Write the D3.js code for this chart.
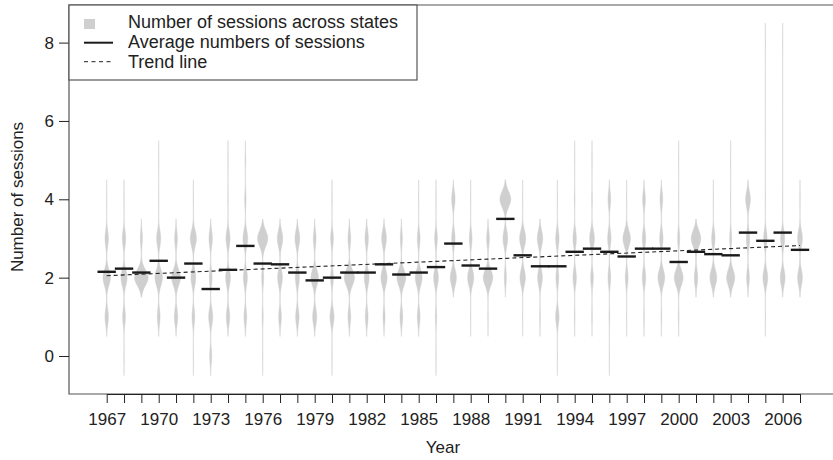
<!DOCTYPE html>
<html>
<head>
<meta charset="utf-8">
<script src="https://cdn.jsdelivr.net/npm/d3@7"></script>
<style>
  body { margin: 0; background: #fff; }
  svg { display: block; font-family: "Liberation Sans", Arial, sans-serif; }
</style>
</head>
<body>
<svg id="chart"></svg>
<script>
// years on the x axis
const years = [1967, 1968, 1969, 1970, 1971, 1972, 1973, 1974, 1975, 1976,
               1977, 1978, 1979, 1980, 1981, 1982, 1983, 1984, 1985, 1986,
               1987, 1988, 1989, 1990, 1991, 1992, 1993, 1994, 1995, 1996,
               1997, 1998, 1999, 2000, 2001, 2002, 2003, 2004, 2005, 2006, 2007];

// session values that states report (0 .. 8)
const sessionLevels = [0, 1, 2, 3, 4, 5, 6, 7, 8];

// number of states at each session level, one row per year (estimated from the violins)
const stateCounts = [
  [0, 10, 22, 10, 1, 0, 0, 0, 0],  // 1967
  [1, 8, 18, 10, 1, 0, 0, 0, 0],   // 1968
  [0, 0, 40, 6, 0, 0, 0, 0, 0],    // 1969
  [0, 8, 22, 12, 1, 1, 0, 0, 0],   // 1970
  [0, 10, 26, 8, 0, 0, 0, 0, 0],   // 1971
  [1, 8, 14, 18, 1, 0, 0, 0, 0],   // 1972
  [6, 12, 8, 10, 0, 0, 0, 0, 0],   // 1973
  [0, 10, 14, 12, 1, 1, 0, 0, 0],  // 1974
  [0, 8, 12, 14, 4, 2, 0, 0, 0],   // 1975
  [1, 3, 6, 30, 0, 0, 0, 0, 0],    // 1976
  [0, 8, 14, 16, 0, 0, 0, 0, 0],   // 1977
  [0, 10, 12, 14, 0, 0, 0, 0, 0],  // 1978
  [0, 12, 22, 8, 0, 0, 0, 0, 0],   // 1979
  [1, 12, 8, 8, 1, 0, 0, 0, 0],    // 1980
  [0, 8, 30, 8, 0, 0, 0, 0, 0],    // 1981
  [0, 8, 14, 10, 0, 0, 0, 0, 0],   // 1982
  [0, 6, 18, 14, 0, 0, 0, 0, 0],   // 1983
  [0, 8, 26, 6, 0, 0, 0, 0, 0],    // 1984
  [0, 8, 20, 8, 1, 0, 0, 0, 0],    // 1985
  [1, 4, 14, 8, 1, 0, 0, 0, 0],    // 1986
  [0, 0, 18, 10, 10, 0, 0, 0, 0],  // 1987
  [0, 1, 18, 8, 1, 0, 0, 0, 0],    // 1988
  [0, 1, 28, 8, 0, 0, 0, 0, 0],    // 1989
  [0, 0, 6, 14, 32, 0, 0, 0, 0],   // 1990
  [0, 1, 16, 18, 1, 0, 0, 0, 0],   // 1991
  [0, 2, 14, 16, 0, 0, 0, 0, 0],   // 1992
  [1, 10, 8, 10, 1, 0, 0, 0, 0],   // 1993
  [0, 2, 10, 10, 2, 1, 0, 0, 0],   // 1994
  [0, 2, 8, 14, 2, 1, 0, 0, 0],    // 1995
  [1, 2, 8, 10, 8, 0, 0, 0, 0],    // 1996
  [0, 1, 8, 22, 1, 0, 0, 0, 0],    // 1997
  [0, 2, 10, 10, 8, 0, 0, 0, 0],   // 1998
  [0, 2, 20, 10, 8, 0, 0, 0, 0],   // 1999
  [0, 2, 26, 6, 1, 1, 0, 0, 0],    // 2000
  [0, 0, 10, 28, 0, 0, 0, 0, 0],   // 2001
  [0, 0, 20, 10, 1, 0, 0, 0, 0],   // 2002
  [0, 0, 24, 6, 1, 1, 0, 0, 0],    // 2003
  [0, 0, 8, 10, 14, 0, 0, 0, 0],   // 2004
  [0, 1, 14, 10, 1, 0, 0, 0, 1],   // 2005
  [0, 0, 14, 12, 1, 0, 0, 0, 1],   // 2006
  [0, 0, 14, 14, 1, 0, 0, 0, 0]    // 2007
];

// average number of sessions per year
const averageSessions = [2.15, 2.23, 2.13, 2.43, 2.00, 2.36, 1.71, 2.20, 2.81, 2.36,
                         2.34, 2.13, 1.93, 2.00, 2.13, 2.13, 2.34, 2.08, 2.13, 2.27,
                         2.87, 2.31, 2.23, 3.50, 2.57, 2.29, 2.29, 2.66, 2.74, 2.66,
                         2.54, 2.74, 2.74, 2.40, 2.66, 2.60, 2.57, 3.15, 2.94, 3.15, 2.71];

// trend line values at first and last year
const trendYears = [1967, 2007];
const trendValues = [2.05, 2.82];

const yTickValues = [0, 2, 4, 6, 8];
const xLabelYears = [1967, 1970, 1973, 1976, 1979, 1982, 1985, 1988, 1991, 1994, 1997, 2000, 2003, 2006];

const legendLabels = ["Number of sessions across states", "Average numbers of sessions", "Trend line"];

const W = 833, H = 460;
const margin = {top: 5, right: 0, bottom: 66, left: 69};
const violinGrey = "#cfcfd0";

const svg = d3.select("#chart").attr("width", W).attr("height", H);

const x = d3.scaleLinear().domain([1967, 2007]).range([106.7, 800]);
const y = d3.scaleLinear().domain([-0.97, 8.96]).range([H - margin.bottom, margin.top]);
const step = x(1968) - x(1967);

// kernel density of the discrete session counts
const bw = 0.2;
function density(counts, v) {
  let s = 0;
  counts.forEach((c, i) => {
    const z = (v - sessionLevels[i]) / bw;
    s += c * Math.exp(-0.5 * z * z);
  });
  return s;
}

const violins = years.map((yr, i) => {
  const counts = stateCounts[i];
  const present = sessionLevels.filter((l, j) => counts[j] > 0);
  const lo = d3.min(present) - 0.5, hi = d3.max(present) + 0.5;
  const pts = [];
  for (let v = lo; v <= hi + 1e-9; v += 0.02) pts.push({v: v, d: density(counts, v)});
  return {year: yr, pts: pts};
});
const maxD = d3.max(violins, vi => d3.max(vi.pts, p => p.d));
const halfW = 6.8;

const area = d3.area()
  .y(p => y(p.v))
  .curve(d3.curveLinear);

const g = svg.append("g");

violins.forEach(vi => {
  const cx = x(vi.year);
  g.append("path")
    .datum(vi.pts)
    .attr("d", area.x0(p => cx - p.d / maxD * halfW).x1(p => cx + p.d / maxD * halfW))
    .attr("fill", violinGrey)
    .attr("stroke", violinGrey)
    .attr("stroke-width", 0.5);
});

// average lines
g.selectAll("line.avg")
  .data(years)
  .enter()
  .append("line")
  .attr("class", "avg")
  .attr("x1", d => x(d) - step * 0.53)
  .attr("x2", d => x(d) + step * 0.53)
  .attr("y1", (d, i) => y(averageSessions[i]))
  .attr("y2", (d, i) => y(averageSessions[i]))
  .attr("stroke", "#1a1a1a")
  .attr("stroke-width", 2.4);

// trend line
g.append("line")
  .attr("x1", x(trendYears[0])).attr("y1", y(trendValues[0]))
  .attr("x2", x(trendYears[1])).attr("y2", y(trendValues[1]))
  .attr("stroke", "#222")
  .attr("stroke-width", 1.1)
  .attr("stroke-dasharray", "4,3");

// plot box
svg.append("path")
  .attr("d", `M${W},${margin.top}H${margin.left}V${H - margin.bottom}H${W}`)
  .attr("fill", "none")
  .attr("stroke", "#555")
  .attr("stroke-width", 1.2);

// axes
const xAxis = d3.axisBottom(x)
  .tickValues(years)
  .tickFormat(d => xLabelYears.includes(d) ? d : "")
  .tickSize(9)
  .tickSizeOuter(0)
  .tickPadding(10);

const xg = svg.append("g")
  .attr("transform", `translate(0, ${H - margin.bottom})`)
  .call(xAxis);

const yAxis = d3.axisLeft(y)
  .tickValues(yTickValues)
  .tickSize(10)
  .tickSizeOuter(0)
  .tickPadding(5);

const yg = svg.append("g")
  .attr("transform", `translate(${margin.left}, 0)`)
  .call(yAxis);
yg.select(".domain").remove();

[xg, yg].forEach(a => {
  a.attr("font-family", null).attr("font-size", null);
  a.selectAll("text").attr("font-size", 17).attr("fill", "#222");
  a.selectAll("line, path").attr("stroke", "#222");
});

// axis titles
svg.append("text")
  .attr("x", 443)
  .attr("y", 453)
  .attr("text-anchor", "middle")
  .attr("font-size", 17)
  .attr("fill", "#222")
  .text("Year");

svg.append("text")
  .attr("transform", "translate(23, 197) rotate(-90)")
  .attr("text-anchor", "middle")
  .attr("font-size", 17)
  .attr("fill", "#222")
  .text("Number of sessions");

// legend
const legend = svg.append("g");
legend.append("rect")
  .attr("x", margin.left).attr("y", margin.top)
  .attr("width", 348).attr("height", 75)
  .attr("fill", "#fff")
  .attr("stroke", "#555")
  .attr("stroke-width", 1.2);

legend.append("rect")
  .attr("x", 84).attr("y", 19)
  .attr("width", 11).attr("height", 10)
  .attr("fill", violinGrey);

legend.append("line")
  .attr("x1", 84).attr("x2", 113)
  .attr("y1", 42.7).attr("y2", 42.7)
  .attr("stroke", "#1a1a1a").attr("stroke-width", 2);

legend.append("line")
  .attr("x1", 84).attr("x2", 113)
  .attr("y1", 61.7).attr("y2", 61.7)
  .attr("stroke", "#222").attr("stroke-width", 1)
  .attr("stroke-dasharray", "4,3.5");

legend.selectAll("text")
  .data(legendLabels)
  .enter()
  .append("text")
  .attr("x", 128)
  .attr("y", (d, i) => 28.3 + i * 19.7)
  .attr("font-size", 18)
  .attr("fill", "#222")
  .text(d => d);
</script>
</body>
</html>
